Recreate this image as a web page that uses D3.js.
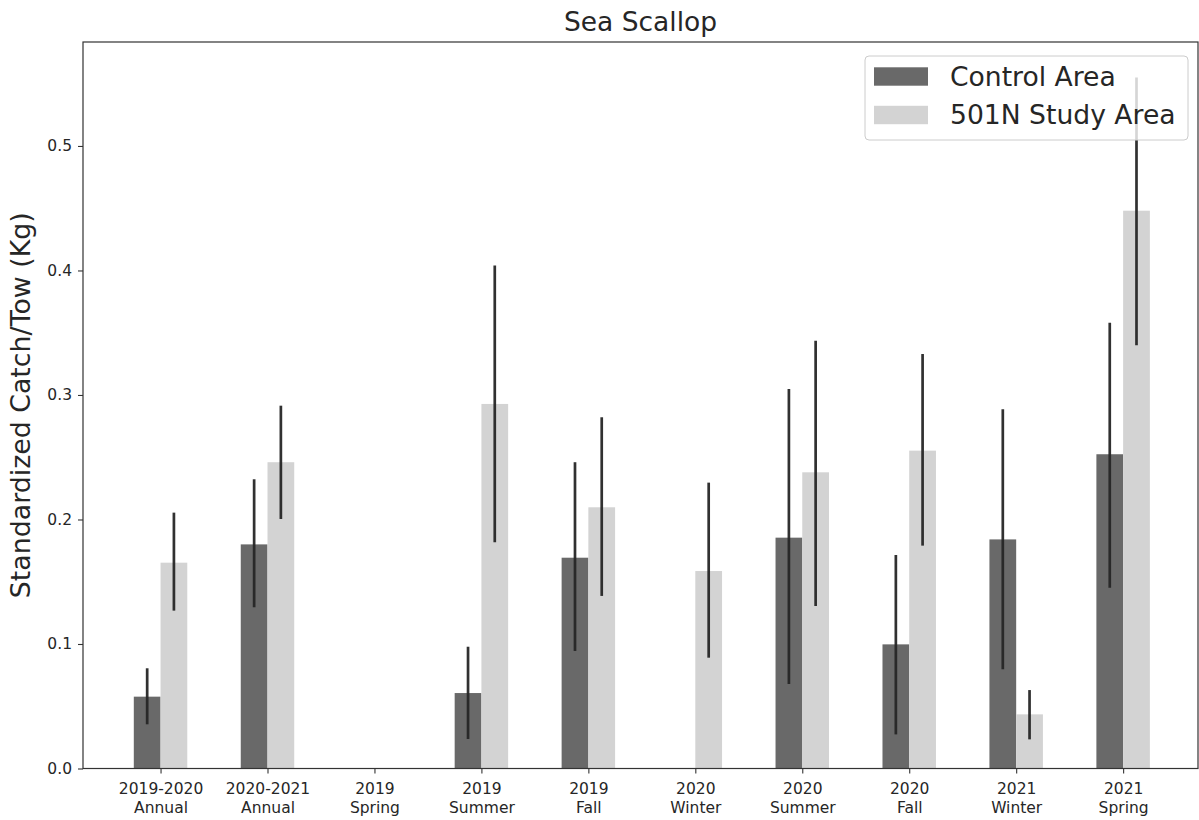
<!DOCTYPE html>
<html>
<head>
<meta charset="utf-8">
<script src="https://cdn.jsdelivr.net/npm/d3@7"></script>
<style>
  html, body { margin: 0; padding: 0; background: #fff; }
  svg { display: block; font-family: "DejaVu Sans", sans-serif; }
</style>
</head>
<body>
<svg id="chart" width="1199" height="820"></svg>
<script>
// ---- data ----
const catYear   = ["2019-2020", "2020-2021", "2019", "2019", "2019", "2020", "2020", "2020", "2021", "2021"];
const catSeason = ["Annual", "Annual", "Spring", "Summer", "Fall", "Winter", "Summer", "Fall", "Winter", "Spring"];
const seriesNames = ["Control Area", "501N Study Area"];
const control   = [0.0577, 0.180, null, 0.0606, 0.1693, null, 0.1854, 0.0997, 0.184, 0.2524];
const controlLo = [0.0355, 0.1295, null, 0.0237, 0.0944, null, 0.0679, 0.0274, 0.0797, 0.1452];
const controlHi = [0.0805, 0.2323, null, 0.0978, 0.246, null, 0.3048, 0.1715, 0.2885, 0.358];
const study     = [0.1653, 0.246, null, 0.2928, 0.2098, 0.1586, 0.2379, 0.2553, 0.0435, 0.448];
const studyLo   = [0.1268, 0.2004, null, 0.1817, 0.1386, 0.089, 0.1305, 0.179, 0.0234, 0.340];
const studyHi   = [0.2055, 0.2914, null, 0.4039, 0.2821, 0.2296, 0.3436, 0.3329, 0.063, 0.555];
const yTicks = [0, 0.1, 0.2, 0.3, 0.4, 0.5];

// ---- layout ----
const L = 83, R = 1198, T = 42, B = 768.5;
const svg = d3.select("#chart");
const x = d3.scaleLinear().domain([-0.725, 9.7]).range([L, R]);
const y = d3.scaleLinear().domain([0, 0.5835]).range([B, T]);
const barW = 0.25;
const colors = ["#696969", "#d3d3d3"];
const errColor = "#262626";

const series = [
  { vals: control, lo: controlLo, hi: controlHi, off: -barW },
  { vals: study, lo: studyLo, hi: studyHi, off: 0 }
];

// bars
series.forEach((s, si) => {
  const data = s.vals.map((v, i) => ({ i, v })).filter(d => d.v !== null);
  svg.append("g").selectAll("rect").data(data).join("rect")
    .attr("x", d => x(d.i + s.off))
    .attr("width", d => x(d.i + s.off + barW) - x(d.i + s.off))
    .attr("y", d => y(d.v))
    .attr("height", d => y(0) - y(d.v))
    .attr("fill", colors[si]);
});

// error bars
series.forEach((s) => {
  const data = s.vals.map((v, i) => ({ i, v, lo: s.lo[i], hi: s.hi[i] })).filter(d => d.v !== null);
  svg.append("g").selectAll("line").data(data).join("line")
    .attr("x1", d => x(d.i + s.off + barW / 2))
    .attr("x2", d => x(d.i + s.off + barW / 2))
    .attr("y1", d => y(d.lo))
    .attr("y2", d => y(d.hi))
    .attr("stroke", errColor)
    .attr("stroke-width", 2.7)
    .attr("opacity", 0.95);
});

// axes
const yAxis = d3.axisLeft(y).tickValues(yTicks).tickFormat(d3.format(".1f")).tickSize(5).tickPadding(6);
const gy = svg.append("g").attr("transform", `translate(${L},0)`).call(yAxis);
gy.select(".domain").remove();
gy.selectAll("text").attr("font-size", 15.5).attr("fill", "#262626").attr("font-family", "DejaVu Sans");
gy.selectAll("line").attr("stroke", "#333").attr("stroke-width", 1.1);

const xAxis = d3.axisBottom(x).tickValues(d3.range(catYear.length)).tickFormat("").tickSize(5);
const gx = svg.append("g").attr("transform", `translate(0,${B})`).call(xAxis);
gx.select(".domain").remove();
gx.selectAll("line").attr("stroke", "#333").attr("stroke-width", 1.1);
gx.selectAll(".tick").each(function(d) {
  const t = d3.select(this).append("text")
    .attr("text-anchor", "middle")
    .attr("font-size", 15.5)
    .attr("fill", "#262626")
    .attr("font-family", "DejaVu Sans");
  t.append("tspan").attr("x", 0).attr("y", 25).text(catYear[d]);
  t.append("tspan").attr("x", 0).attr("y", 44.5).text(catSeason[d]);
});

// spines
svg.append("rect").attr("x", L).attr("y", T).attr("width", R - L).attr("height", B - T)
  .attr("fill", "none").attr("stroke", "#333").attr("stroke-width", 1.2);

// title
svg.append("text").attr("x", (L + R) / 2).attr("y", 30.5)
  .attr("text-anchor", "middle").attr("font-size", 26.5).attr("fill", "#262626")
  .text("Sea Scallop");

// y label
svg.append("text")
  .attr("transform", `translate(30,${(T + B) / 2}) rotate(-90)`)
  .attr("text-anchor", "middle").attr("font-size", 26.8).attr("fill", "#262626")
  .text("Standardized Catch/Tow (Kg)");

// legend
const lg = svg.append("g");
lg.append("rect").attr("x", 865).attr("y", 56).attr("width", 323).attr("height", 84)
  .attr("rx", 4).attr("fill", "#fff").attr("fill-opacity", 0.8)
  .attr("stroke", "#cccccc").attr("stroke-width", 1);
seriesNames.forEach((name, k) => {
  const cy = 76.5 + k * 38.5;
  lg.append("rect").attr("x", 874).attr("y", cy - 9.2).attr("width", 54).attr("height", 18.4)
    .attr("fill", colors[k]);
  lg.append("text").attr("x", 950).attr("y", cy + 9.3)
    .attr("font-size", 26.6).attr("fill", "#262626").text(name);
});
</script>
</body>
</html>
